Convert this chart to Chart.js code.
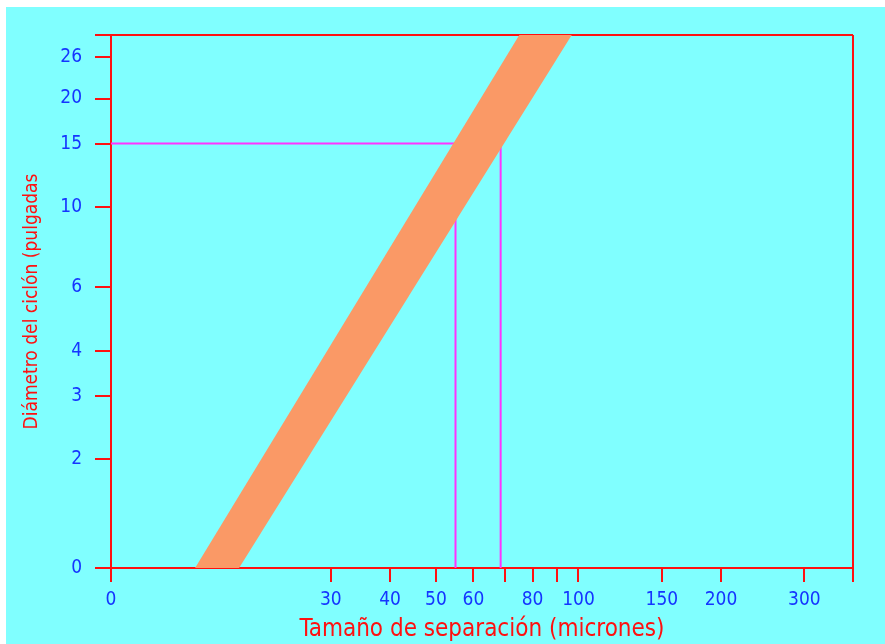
<!DOCTYPE html>
<html>
<head>
<meta charset="utf-8">
<script src="https://cdn.jsdelivr.net/npm/chart.js@4.4.1/dist/chart.umd.min.js"></script>
<style>
  html, body { margin: 0; padding: 0; background: #ffffff; }
  #wrap { position: absolute; left: 6px; top: 7px; width: 879px; height: 637px; background: #80ffff; }
</style>
</head>
<body>
<div id="wrap"><canvas id="chart"></canvas></div>
<script>
// axis ranges (log scales, the "0" labels sit at the axis minimum)
const xMin = 10.3;
const xMax = 380;
const yMin = 1;
const yMax = 30;

const xTickValues = [xMin, 30, 40, 50, 60, 70, 80, 90, 100, 150, 200, 300, xMax];
const xTickLabels = ['0', '30', '40', '50', '60', '', '80', '', '100', '150', '200', '300', ''];
const yTickValues = [yMin, 2, 3, 4, 6, 10, 15, 20, 26, yMax];
const yTickLabels = ['0', '2', '3', '4', '6', '10', '15', '20', '26', ''];

// corners of the band: separation size (microns) vs cyclone diameter (inches)
const bandSize = [15.5, 75, 96.8, 19.2];
const bandDiameter = [1, 30, 30, 1];

// reading lines for a 15 inch cyclone
const readDiameter = 15;
const readSizes = [55, 68.5];

const RED = '#ff1010';
const BLUE = '#1535ff';
const MAGENTA = '#ff33ff';
const FONT = "'Liberation Sans Narrow', 'DejaVu Sans Condensed', 'Liberation Sans', sans-serif";

const toPoints = (xs, ys) => xs.map((x, i) => ({ x: x, y: ys[i] }));

const lineStyle = {
    showLine: true,
    borderColor: MAGENTA,
    borderWidth: 2,
    pointRadius: 0,
    fill: false,
};

const ctx = document.getElementById('chart').getContext('2d');
new Chart(ctx, {
    type: 'scatter',
    data: {
        datasets: [
            {
                data: toPoints(bandSize, bandDiameter),
                showLine: true,
                fill: 'shape',
                backgroundColor: '#fa9966',
                borderColor: '#fa9966',
                borderWidth: 0,
                pointRadius: 0,
            },
            { ...lineStyle, data: toPoints([xMin, readSizes[0]], [readDiameter, readDiameter]) },
            { ...lineStyle, data: toPoints([readSizes[0], readSizes[0]], [yMin, readDiameter]) },
            { ...lineStyle, data: toPoints([readSizes[1], readSizes[1]], [yMin, readDiameter]) },
        ],
    },
    options: {
        responsive: true,
        maintainAspectRatio: false,
        animation: false,
        layout: { padding: { top: 28, right: 32, left: 0, bottom: 0 } },
        plugins: {
            legend: { display: false },
            tooltip: { enabled: false },
        },
        scales: {
            x: {
                type: 'logarithmic',
                min: xMin,
                max: xMax,
                afterBuildTicks: (s) => { s.ticks = xTickValues.map(v => ({ value: v })); },
                afterFit: (s) => { s.height = 76; },
                ticks: {
                    autoSkip: false,
                    maxRotation: 0,
                    minRotation: 0,
                    padding: 7,
                    color: BLUE,
                    font: { family: FONT, size: 19 },
                    callback: (v, i) => xTickLabels[i],
                },
                grid: {
                    color: (c) => (c.tick && c.tick.value === xMax ? RED : 'rgba(0,0,0,0)'),
                    tickColor: RED,
                    tickLength: 14,
                    lineWidth: 2,
                    tickWidth: 2,
                },
                border: { color: RED, width: 2 },
                title: {
                    display: true,
                    text: 'Tamaño de separación (micrones)',
                    color: RED,
                    font: { family: FONT, size: 24 },
                    padding: { top: 0, bottom: 0 },
                },
            },
            y: {
                type: 'logarithmic',
                min: yMin,
                max: yMax,
                afterBuildTicks: (s) => { s.ticks = yTickValues.map(v => ({ value: v })); },
                afterFit: (s) => { s.width = 105; },
                ticks: {
                    autoSkip: false,
                    padding: 13,
                    color: BLUE,
                    font: { family: FONT, size: 19 },
                    callback: (v, i) => yTickLabels[i],
                },
                grid: {
                    color: (c) => (c.tick && c.tick.value === yMax ? RED : 'rgba(0,0,0,0)'),
                    tickColor: RED,
                    tickLength: 16,
                    lineWidth: 2,
                    tickWidth: 2,
                },
                border: { color: RED, width: 2 },
                title: {
                    display: true,
                    text: 'Diámetro del ciclón (pulgadas',
                    color: RED,
                    font: { family: FONT, size: 19 },
                    padding: { top: 15, bottom: 0 },
                },
            },
        },
    },
});
</script>
</body>
</html>
